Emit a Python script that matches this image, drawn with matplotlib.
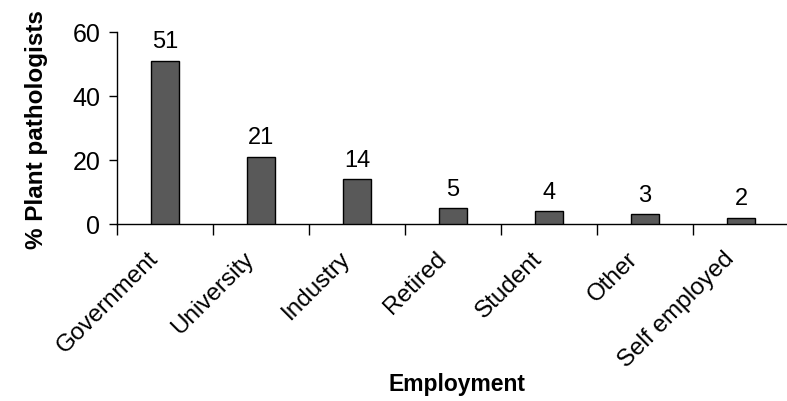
import matplotlib
matplotlib.use("Agg")
import matplotlib.pyplot as plt
import matplotlib.transforms as mtransforms

categories = ["Government", "University", "Industry", "Retired", "Student", "Other", "Self employed"]
values = [51, 21, 14, 5, 4, 3, 2]
yticks = [0, 20, 40, 60]

plt.rcParams['font.family'] = ['Liberation Sans', 'DejaVu Sans']

fig = plt.figure(figsize=(7.87, 4.02), dpi=100)
ax = fig.add_axes([117/787, 1 - 225/402, 672/787, (225-33)/402])

x = list(range(len(categories)))
bars = ax.bar(x, values, width=0.29, color='#595959', edgecolor='black', linewidth=1.0, zorder=3)
for xi, v in zip(x, values):
    ax.annotate(str(v), (xi, v), xytext=(0, 6), textcoords='offset points',
                ha='center', va='bottom', fontsize=17)

ax.set_xlim(-0.5, len(categories) - 0.5)
ax.set_ylim(0, 60)
ax.set_yticks(yticks)
ax.set_yticklabels([str(t) for t in yticks], fontsize=18)
ax.set_xticks([i - 0.5 for i in range(len(categories))], minor=False)
ax.set_xticklabels([])
ax.set_xticks(x, minor=True)
ax.set_xticklabels(categories, minor=True, rotation=45, ha='right', va='top',
                   rotation_mode='anchor', fontsize=17.5)
ax.tick_params(axis='x', which='major', direction='out', length=8, width=1)
ax.tick_params(axis='x', which='minor', length=0, pad=10)
ax.tick_params(axis='y', direction='out', length=6, width=1, pad=6)

offset = mtransforms.ScaledTranslation(-18/100, -9/100, fig.dpi_scale_trans)
for lab in ax.get_xticklabels(minor=True):
    lab.set_transform(lab.get_transform() + offset)

for s in ['top', 'right']:
    ax.spines[s].set_visible(False)
for s in ['left', 'bottom']:
    ax.spines[s].set_linewidth(1)

ax.set_ylabel('% Plant pathologists', fontsize=17.5, fontweight='bold')
ax.yaxis.set_label_coords(-(117-37)/672, (225-130)/192)
ax.set_xlabel('Employment', fontsize=16.5, fontweight='bold')
ax.xaxis.set_label_coords((457-117)/672, -(385-225)/192)
ax.xaxis.label.set_va('center')
ax.yaxis.label.set_va('center')

fig.savefig('out.png', dpi=100)
